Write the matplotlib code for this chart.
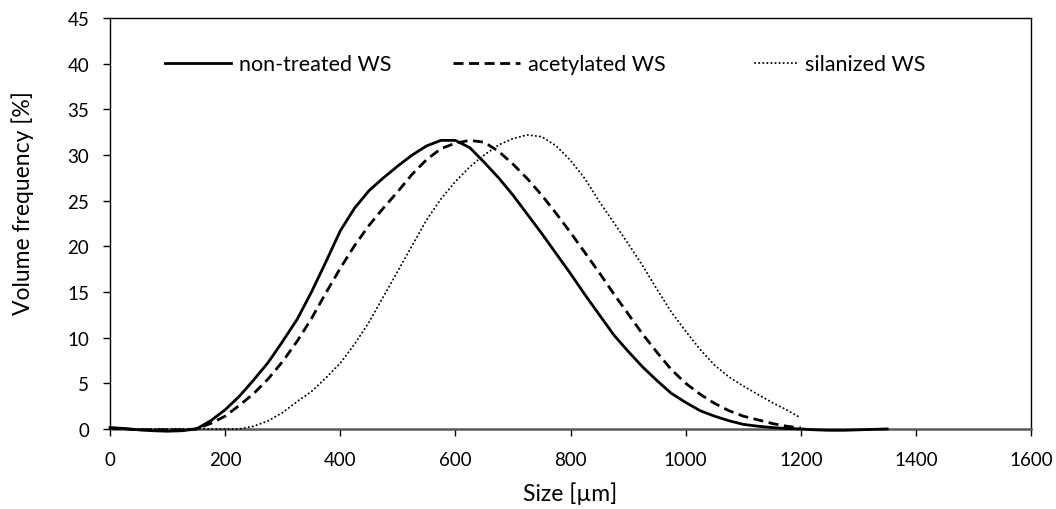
import matplotlib
matplotlib.use("Agg")
import matplotlib.pyplot as plt
from matplotlib.legend import Legend
import numpy as np

plt.rcParams['font.family'] = ['Lato', 'DejaVu Sans']

# size classes [um]
size_nt = [0, 25, 50, 75, 100, 125, 150, 175, 200, 225, 250, 275, 300, 325, 350, 375,
           400, 425, 450, 475, 500, 525, 550, 575, 600, 625, 650, 675, 700, 725, 750,
           775, 800, 825, 850, 875, 900, 925, 950, 975, 1000, 1025, 1050, 1075, 1100,
           1125, 1150, 1175, 1200, 1225, 1250, 1275, 1300, 1325, 1350]
non_treated = [0.15, 0.05, -0.1, -0.2, -0.25, -0.2, 0.0, 0.9, 2.1, 3.6, 5.4, 7.3, 9.6, 12.0,
               15.0, 18.3, 21.7, 24.2, 26.1, 27.5, 28.8, 30.0, 31.0, 31.6, 31.6, 30.8,
               29.2, 27.5, 25.6, 23.5, 21.4, 19.2, 17.0, 14.7, 12.5, 10.3, 8.5, 6.8, 5.3,
               3.9, 2.9, 2.0, 1.4, 0.9, 0.5, 0.3, 0.15, 0.05, 0.0, -0.1, -0.15, -0.15,
               -0.1, -0.05, 0.0]

size_ac = [0, 25, 50, 75, 100, 125, 150, 175, 200, 225, 250, 275, 300, 325, 350, 375,
           400, 425, 450, 475, 500, 525, 550, 575, 600, 625, 650, 675, 700, 725, 750,
           775, 800, 825, 850, 875, 900, 925, 950, 975, 1000, 1025, 1050, 1075, 1100,
           1125, 1150, 1175, 1200]
acetylated = [0.1, 0.0, -0.1, -0.1, -0.1, -0.1, 0.0, 0.6, 1.4, 2.6, 3.9, 5.5, 7.4, 9.6,
              12.1, 14.9, 17.6, 20.1, 22.3, 24.2, 26.0, 27.9, 29.5, 30.7, 31.3, 31.6,
              31.4, 30.4, 29.0, 27.4, 25.6, 23.6, 21.5, 19.3, 17.1, 14.8, 12.6, 10.4,
              8.4, 6.5, 5.0, 3.8, 2.8, 2.0, 1.4, 1.0, 0.6, 0.3, 0.1]

size_si = [0, 25, 50, 75, 100, 125, 150, 175, 200, 225, 250, 275, 300, 325, 350, 375,
           400, 425, 450, 475, 500, 525, 550, 575, 600, 625, 650, 675, 700, 725, 750,
           775, 800, 825, 850, 875, 900, 925, 950, 975, 1000, 1025, 1050, 1075, 1100,
           1125, 1150, 1175, 1200]
silanized = [0.0, 0.0, 0.0, 0.0, 0.0, 0.0, 0.0, 0.0, 0.0, 0.0, 0.3, 0.9, 1.8, 3.0, 4.1,
             5.6, 7.2, 9.3, 11.7, 14.5, 17.3, 20.1, 22.9, 25.2, 27.1, 28.7, 30.0, 31.1,
             31.8, 32.2, 32.0, 31.0, 29.4, 27.4, 24.9, 22.6, 20.3, 17.9, 15.3, 12.8,
             10.7, 8.7, 7.0, 5.7, 4.7, 3.8, 2.9, 2.1, 1.2]

labels = ['non-treated WS', 'acetylated WS', 'silanized WS']

fig = plt.figure(figsize=(10.56, 5.10), dpi=100)
ax = fig.add_axes([0.1042, 0.157, 0.8722, 0.8057])

l1, = ax.plot(size_nt, non_treated, color='black', lw=2.0, ls='-', clip_on=False, zorder=3)
l2, = ax.plot(size_ac, acetylated, color='black', lw=2.0, ls=(0, (3.6, 2.0)), clip_on=False, zorder=3)
l3, = ax.plot(size_si, silanized, color='black', lw=1.4, ls=(0, (0.1, 2.0)),
              dash_capstyle='round', clip_on=False, zorder=3)

ax.set_xlim(0, 1600)
ax.set_ylim(0, 45)
ax.set_xticks(np.arange(0, 1601, 200))
ax.set_yticks(np.arange(0, 46, 5))
ax.tick_params(axis='both', direction='out', length=5, width=1, labelsize=13.5, colors='black')
ax.tick_params(axis='y', pad=10)
ax.tick_params(axis='x', pad=11)
for s in ['top', 'right', 'left']:
    ax.spines[s].set_linewidth(1.0)
    ax.spines[s].set_color('black')
ax.spines['bottom'].set_linewidth(1.8)
ax.spines['bottom'].set_color('#595959')

ax.set_xlabel('Size [µm]', fontsize=16.5)
ax.set_ylabel('Volume frequency [%]', fontsize=16.5)
ax.xaxis.set_label_coords(0.5, -0.128)
ax.yaxis.set_label_coords(-0.083, 0.552)

# three legend entries placed like the original (dotted handle is shorter)
entries = [(l1, labels[0], 0.0594, 3.1), (l2, labels[1], 0.3726, 3.1), (l3, labels[2], 0.6998, 1.95)]
for line, text, xpos, hl in entries:
    leg = Legend(ax, [line], [text], loc='center left', bbox_to_anchor=(xpos, 0.888),
                 frameon=False, fontsize=15.5, handlelength=hl, handletextpad=0.37,
                 borderpad=0, borderaxespad=0)
    ax.add_artist(leg)

fig.savefig('out.png', dpi=100)
